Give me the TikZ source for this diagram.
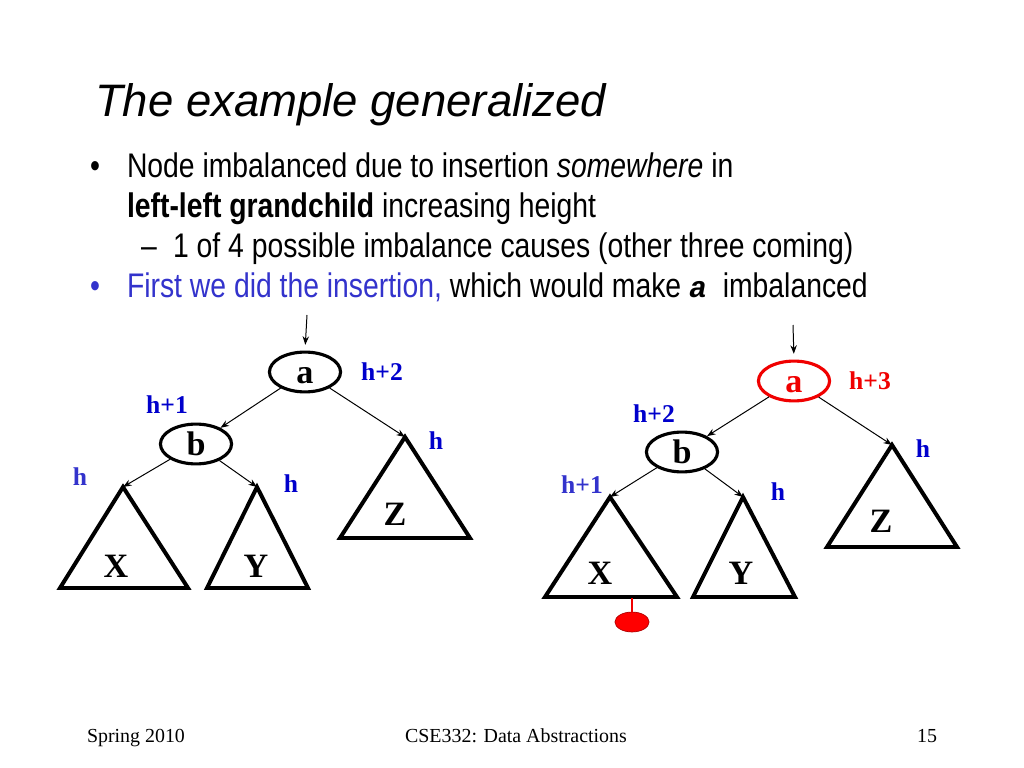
\documentclass[tikz,border=0pt]{standalone}
\usepackage{fontspec}
\usepackage{tikz}
\usetikzlibrary{shapes.geometric,arrows.meta}
\setmainfont{Liberation Serif}
\newfontfamily\slidesans{Liberation Sans}
\newfontfamily\slidenarrow[FakeStretch=0.83]{Liberation Sans}
\newfontfamily\slidemono{Liberation Mono}
\definecolor{hblue}{RGB}{0,0,204}
\definecolor{hblueb}{RGB}{51,51,204}
\definecolor{hred}{RGB}{240,0,0}

\begin{document}
\begin{tikzpicture}[x=0.703125pt, y=-0.703125pt,
    vertex/.style={draw,ellipse,line width=2.2pt,minimum width=50pt,minimum height=28pt,inner sep=0pt,text height=16pt,text depth=0pt,font=\fontsize{24}{24}\selectfont\bfseries},
    tri/.style={draw,line width=2.8pt},
    sub/.style={anchor=base,font=\fontsize{24}{24}\selectfont\bfseries},
    lab/.style={anchor=base,font=\fontsize{18}{18}\selectfont\bfseries,text=hblue},
    line/.style={anchor=base west,font=\slidenarrow\fontsize{24}{24}\selectfont},
    foot/.style={anchor=base,font=\fontsize{14}{14}\selectfont},
    arr/.style={draw,->,>={Stealth[length=6pt,width=4.5pt]},line width=0.7pt}]
    \useasboundingbox (0,0) rectangle (1024,768);

    % title and bullets
    \node[anchor=base west,font=\slidesans\itshape\fontsize{32}{32}\selectfont] (title) at (90,117) {The example generalized};
    \node[line] (bone) at (85,178) {\textbullet};
    \node[line] (lone) at (122,178) {Node imbalanced due to insertion \textit{somewhere} in};
    \node[line] (ltwo) at (122,218) {\textbf{left-left grandchild} increasing height};
    \node[line] (dash) at (136,258) {\textendash};
    \node[line] (lthree) at (168,258) {1 of 4 possible imbalance causes (other three coming)};
    \node[line,text=hblueb] (btwo) at (85,297) {\textbullet};
    \node[line] (lfour) at (122,297) {{\color{hblueb}First we did the insertion,} which would make {\slidemono\bfseries\itshape\fontsize{21}{21}\selectfont a}\ \ imbalanced};

    % tree before
    \node[vertex] (a) at (305,372) {a};
    \node[vertex] (b) at (196,444) {b};
    \coordinate (ain) at (307,315);
    \coordinate (xtop) at (123,487);
    \coordinate (ytop) at (257,487);
    \coordinate (ztop) at (405,437);
    \draw[tri] (xtop) -- (60,588) -- (188,588) -- cycle;
    \draw[tri] (ytop) -- (207,588) -- (308,588) -- cycle;
    \draw[tri] (ztop) -- (340,538) -- (470,538) -- cycle;
    \node[sub] (xname) at (116,577) {X};
    \node[sub] (yname) at (256,577) {Y};
    \node[sub] (zname) at (395,525) {Z};
    \draw[arr,shorten >=4pt] (ain) -- (a.north);
    \draw[arr] (a) -- (b);
    \draw[arr] (a) -- (ztop);
    \draw[arr] (b) -- (xtop);
    \draw[arr] (b) -- (ytop);
    \node[lab] (ha) at (382,380) {h+2};
    \node[lab] (hb) at (167,413) {h+1};
    \node[lab] (hz) at (436,449) {h};
    \node[lab,text=hblueb] (hx) at (80,485) {h};
    \node[lab] (hy) at (291,492) {h};

    % tree after the insertion
    \node[vertex,draw=hred,text=hred] (ra) at (794,381) {a};
    \node[vertex] (rb) at (682,452) {b};
    \coordinate (rain) at (793,325);
    \coordinate (rxtop) at (610,497);
    \coordinate (rytop) at (743,497);
    \coordinate (rztop) at (892,445);
    \draw[tri] (rxtop) -- (545,597) -- (677,597) -- cycle;
    \draw[tri] (rytop) -- (693,597) -- (795,597) -- cycle;
    \draw[tri] (rztop) -- (827,547) -- (957,547) -- cycle;
    \node[sub] (rxname) at (600,584) {X};
    \node[sub] (ryname) at (741,584) {Y};
    \node[sub] (rzname) at (881,532) {Z};
    \draw[arr,shorten >=4pt] (rain) -- (ra.north);
    \draw[arr] (ra) -- (rb);
    \draw[arr] (ra) -- (rztop);
    \draw[arr] (rb) -- (rxtop);
    \draw[arr] (rb) -- (rytop);
    \node[lab,text=hred] (rha) at (870,389) {h+3};
    \node[lab] (rhb) at (654,422) {h+2};
    \node[lab] (rhz) at (923,457) {h};
    \node[lab,text=hblueb] (rhx) at (582,493) {h+1};
    \node[lab] (rhy) at (778,500) {h};

    % new leaf
    \coordinate (stem) at (632,598);
    \node[draw=red!70!black,fill=red,ellipse,line width=0.5pt,minimum width=24pt,minimum height=14pt,inner sep=0pt] (leaf) at (632,622) {};
    \draw[hred,line width=2pt] (stem) -- (leaf.north);

    % footer
    \node[foot] (fone) at (136,742) {Spring 2010};
    \node[foot] (ftwo) at (516,742) {CSE332: Data Abstractions};
    \node[foot] (fthree) at (927,742) {15};
\end{tikzpicture}
\end{document}
